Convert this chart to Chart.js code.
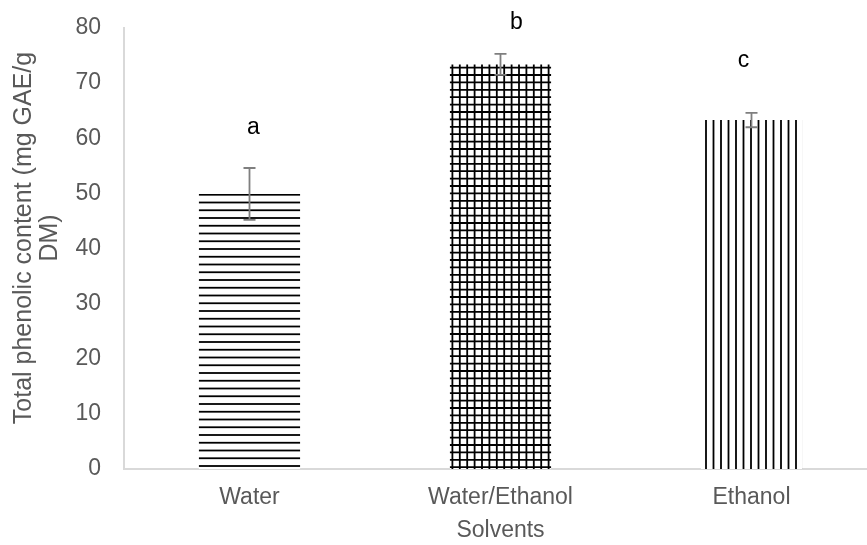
<!DOCTYPE html>
<html><head><meta charset="utf-8">
<script src="https://cdn.jsdelivr.net/npm/chart.js@4"></script>
<style>html,body{margin:0;padding:0;overflow:hidden;background:#fff}#wrap{width:877px;height:545px}</style>
</head><body><div id="wrap"><canvas id="c" width="877" height="545"></canvas></div>
<script>
const categories = ['Water', 'Water/Ethanol', 'Ethanol'];
const values = [49.9, 73.4, 63.3];
const errors = [4.7, 1.9, 1.3];
const letters = ['a', 'b', 'c'];
const letterValues = [62, 81, 74];
const yTicks = [0, 10, 20, 30, 40, 50, 60, 70, 80];
const yTitleLines = ['Total phenolic content (mg GAE/g', 'DM)'];
const xTitle = 'Solvents';

const FONT = "'Liberation Sans', Arial, sans-serif";
const letterOffsetX = [4, 16, -8];

function makePattern(kind, period, n) {
  const size = Math.round(period * n);
  const c = document.createElement('canvas');
  c.width = size; c.height = size;
  const g = c.getContext('2d');
  g.fillStyle = '#fff'; g.fillRect(0, 0, size, size);
  g.strokeStyle = '#000'; g.lineWidth = 1.8;
  for (let i = 0; i < n; i++) {
    const p = i * period + 1;
    if (kind === 'h' || kind === 'grid') { g.beginPath(); g.moveTo(0, p); g.lineTo(size, p); g.stroke(); }
    if (kind === 'v' || kind === 'grid') { g.beginPath(); g.moveTo(p, 0); g.lineTo(p, size); g.stroke(); }
  }
  return g.createPattern(c, 'repeat');
}
const ctx = document.getElementById('c').getContext('2d');
const patterns = [makePattern('h', 7.75, 4), makePattern('grid', 7.4, 5), makePattern('v', 7.5, 2)];

const overlay = {
  id: 'overlay',
  afterDatasetsDraw(chart) {
    const g = chart.ctx, xs = chart.scales.x, ys = chart.scales.y;
    g.save();
    g.strokeStyle = '#7f7f7f'; g.lineWidth = 1.8;
    values.forEach((v, i) => {
      const x = xs.getPixelForValue(i);
      const yt = ys.getPixelForValue(v + errors[i]);
      const yb = ys.getPixelForValue(v - errors[i]);
      g.beginPath();
      g.moveTo(x, yt); g.lineTo(x, yb);
      g.moveTo(x - 6, yt); g.lineTo(x + 6, yt);
      g.moveTo(x - 6, yb); g.lineTo(x + 6, yb);
      g.stroke();
    });
    g.fillStyle = '#000'; g.font = '23px ' + FONT;
    g.textAlign = 'center'; g.textBaseline = 'middle';
    letters.forEach((t, i) => {
      g.fillText(t, xs.getPixelForValue(i) + letterOffsetX[i], ys.getPixelForValue(letterValues[i]));
    });
    g.fillStyle = '#595959'; g.font = '25px ' + FONT;
    g.translate(37, 238); g.rotate(-Math.PI / 2);
    yTitleLines.forEach((t, i) => g.fillText(t, 0, (i - 0.5) * 26));
    g.restore();
  }
};

new Chart(ctx, {
  type: 'bar',
  data: {
    labels: categories,
    datasets: [{
      data: values,
      backgroundColor: patterns,
      borderWidth: 0,
      barPercentage: 0.403,
      categoryPercentage: 1
    }]
  },
  options: {
    responsive: false,
    devicePixelRatio: 1,
    animation: false,
    layout: { padding: { top: 28, right: 0, left: 0, bottom: 0 } },
    plugins: { legend: { display: false }, tooltip: { enabled: false } },
    scales: {
      x: {
        grid: { display: false, drawTicks: false },
        border: { color: '#d9d9d9', width: 2 },
        ticks: { color: '#595959', font: { family: FONT, size: 23 }, padding: 15 },
        title: { display: true, text: xTitle, color: '#595959', font: { family: FONT, size: 23 }, padding: { top: 0, bottom: 1 } },
        afterFit(s) { s.height = 76; s.paddingLeft = 0; s.paddingRight = 0; }
      },
      y: {
        min: 0, max: 80,
        afterBuildTicks(s) { s.ticks = yTicks.map(v => ({ value: v })); },
        grid: { display: false, drawTicks: false },
        border: { color: '#d9d9d9', width: 2 },
        ticks: { color: '#595959', font: { family: FONT, size: 23 }, padding: 23 },
        afterFit(s) { s.width = 124; s.paddingTop = 0; s.paddingBottom = 0; }
      }
    }
  },
  plugins: [overlay]
});
</script></body></html>
